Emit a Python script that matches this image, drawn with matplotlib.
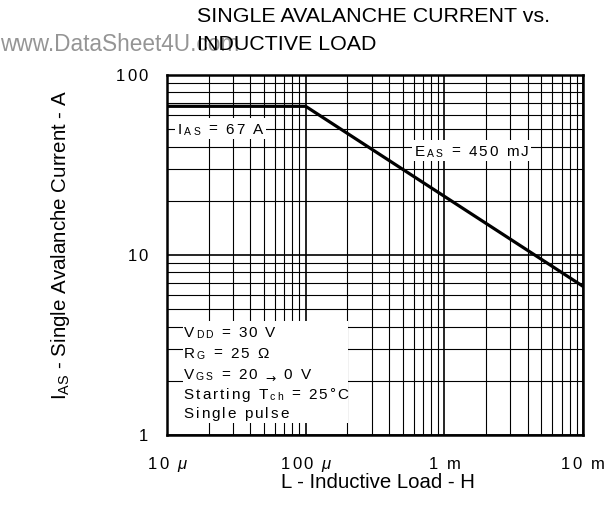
import matplotlib
matplotlib.use("Agg")
import matplotlib.pyplot as plt
import matplotlib.patches as patches
from matplotlib import font_manager
from matplotlib.font_manager import FontProperties
from matplotlib.transforms import ScaledTranslation
from matplotlib.ticker import LogLocator, FixedLocator, NullFormatter

plt.rcParams['font.family'] = ['Liberation Sans', 'DejaVu Sans']
plt.rcParams['mathtext.fontset'] = 'custom'
plt.rcParams['mathtext.rm'] = 'Liberation Sans'
plt.rcParams['mathtext.it'] = 'Liberation Sans:italic'

DPI = 100

# ---- data ----
inductance = [1e-5, 1.0e-4, 1e-2]        # H
avalanche_current = [67, 67, 6.7]        # A
x_ticks = [1e-5, 1e-4, 1e-3, 1e-2]
x_tick_labels = [[("10 ", ""), ("\u03bc", "it")],
                 [("100 ", ""), ("\u03bc", "it")],
                 [("1 m", "")],
                 [("10 m", "")]]
y_ticks = [1, 10, 100]
y_tick_labels = ["1", "10", "100"]
ias_label = [("I", ""), ("AS", "sub"), (" = 67 A", "")]
eas_label = [("E", ""), ("AS", "sub"), (" = 450 mJ", "")]
conditions = [
    [("V", ""), ("DD", "sub"), (" = 30 V", "")],
    [("R", ""), ("G", "sub"), (" = 25 \u03a9", "")],
    [("V", ""), ("GS", "sub"), (" = 20 ", ""), ("\u2192", "arrow"), (" 0 V", "")],
    [("Starting T", ""), ("ch", "sub"), (" = 25\u00b0C", "")],
    [("Single pulse", "")],
]

fig = plt.figure(figsize=(6.09, 5.18), dpi=DPI)
ax = fig.add_axes([0.2742, 0.1602, 0.6831, 0.695])
AX_W = 6.09 * DPI * 0.6831
AX_H = 5.18 * DPI * 0.695


def families(style):
    if style == "arrow":
        return ['DejaVu Sans']
    return ['Liberation Sans', 'DejaVu Sans']


def advance(ch, size, style):
    # advance width of one glyph in pixels
    for fam in families(style):
        font = font_manager.get_font(font_manager.findfont(
            FontProperties(family=fam, style="italic" if style == "it" else "normal")))
        if ord(ch) in font.get_charmap():
            font.set_size(size, DPI)
            return font.load_char(ord(ch)).linearHoriAdvance / 65536
    return size * 0.6


def spaced_text(x, y, trans, pieces, size, track, ha="left", dx=0, dy=0,
                sub_size=None, zorder=4):
    # letter-spaced text, x/y = baseline anchor
    sub_size = sub_size or size * 0.68
    chars = []
    for s, kind in pieces:
        for ch in s:
            if kind == "sub":
                chars.append((ch, sub_size, -1.5, ""))
            elif kind == "arrow":
                chars.append((ch, size * 0.8, -3.0, "arrow"))
            else:
                chars.append((ch, size, 0, kind))
    widths = [advance(c, sz, st) for c, sz, _, st in chars]
    total = sum(widths) + track * (len(chars) - 1)
    start = {"left": 0, "right": -total, "center": -total / 2}[ha] + dx
    off = start
    for (c, sz, cdy, st), w in zip(chars, widths):
        if c != " ":
            ax.text(x, y, c, fontsize=sz, va="baseline", ha="left",
                    style="italic" if st == "it" else "normal",
                    family=families(st), zorder=zorder,
                    transform=trans + ScaledTranslation(off / DPI, (dy + cdy) / DPI,
                                                        fig.dpi_scale_trans))
        off += w + track
    return start, total


ax.plot(inductance, avalanche_current, color="black", lw=2.3, zorder=4,
        solid_joinstyle="miter")

ax.set_xscale("log")
ax.set_yscale("log")
ax.set_xlim(1e-5, 1e-2)
ax.set_ylim(1, 100)

ax.xaxis.set_major_locator(FixedLocator(x_ticks))
ax.yaxis.set_major_locator(FixedLocator(y_ticks))
ax.xaxis.set_minor_locator(LogLocator(base=10, subs=range(2, 10)))
ax.yaxis.set_minor_locator(LogLocator(base=10, subs=range(2, 10)))
ax.xaxis.set_minor_formatter(NullFormatter())
ax.yaxis.set_minor_formatter(NullFormatter())
ax.tick_params(which="both", length=0, labelbottom=False, labelleft=False)

ax.set_axisbelow(True)
ax.grid(which="major", color="black", lw=1.2)
ax.grid(which="minor", color="black", lw=0.8)
for s in ax.spines.values():
    s.set_linewidth(1.8)
    s.set_zorder(5)

# tick labels, letter-spaced like the original
for xv, lab in zip(x_ticks, x_tick_labels):
    spaced_text(xv, 0, ax.get_xaxis_transform(), lab, 12, 2.2, ha="center", dy=-33.5)
for yv, lab in zip(y_ticks, y_tick_labels):
    spaced_text(0, yv, ax.get_yaxis_transform(), [(lab, "")], 12, 2.2,
                ha="right", dx=-19, dy=-6)

# annotation boxes (white, covering the grid)
for pieces, bx, by in [(ias_label, 0.0264, 0.8375), (eas_label, 0.596, 0.7764)]:
    st, tot = spaced_text(bx, by, ax.transAxes, pieces, 11, 2.0)
    ax.add_patch(patches.Rectangle((bx + (st - 3) / AX_W, by - 5 / AX_H),
                                   (tot + 6) / AX_W, 21 / AX_H,
                                   transform=ax.transAxes, facecolor="white",
                                   edgecolor="none", zorder=2))

ax.add_patch(patches.Rectangle((0.038, 0.033), 0.397, 0.284, transform=ax.transAxes,
                               facecolor="white", edgecolor="none", zorder=2))
cond_y = [0.2736, 0.2153, 0.1569, 0.1014, 0.0486]
for pieces, yy in zip(conditions, cond_y):
    spaced_text(0.040, yy, ax.transAxes, pieces, 11, 2.0)

# titles and axis labels
fig.text(0.0, 0.9025, "www.DataSheet4U.com", fontsize=16.3, color="#959595",
         ha="left", va="baseline", zorder=0)
fig.text(0.3235, 0.9575, "SINGLE AVALANCHE CURRENT vs.", fontsize=15.4,
         ha="left", va="baseline")
fig.text(0.3235, 0.9035, "INDUCTIVE LOAD", fontsize=15.4,
         ha="left", va="baseline")
fig.text(0.62, 0.0685, "L - Inductive Load - H", fontsize=14.7,
         ha="center", va="center")
fig.text(0.0997, 0.527, r"I$_{\mathregular{AS}}$ - Single Avalanche Current - A",
         fontsize=14.8, rotation=90, ha="center", va="center")

fig.savefig("out.png", dpi=DPI)
